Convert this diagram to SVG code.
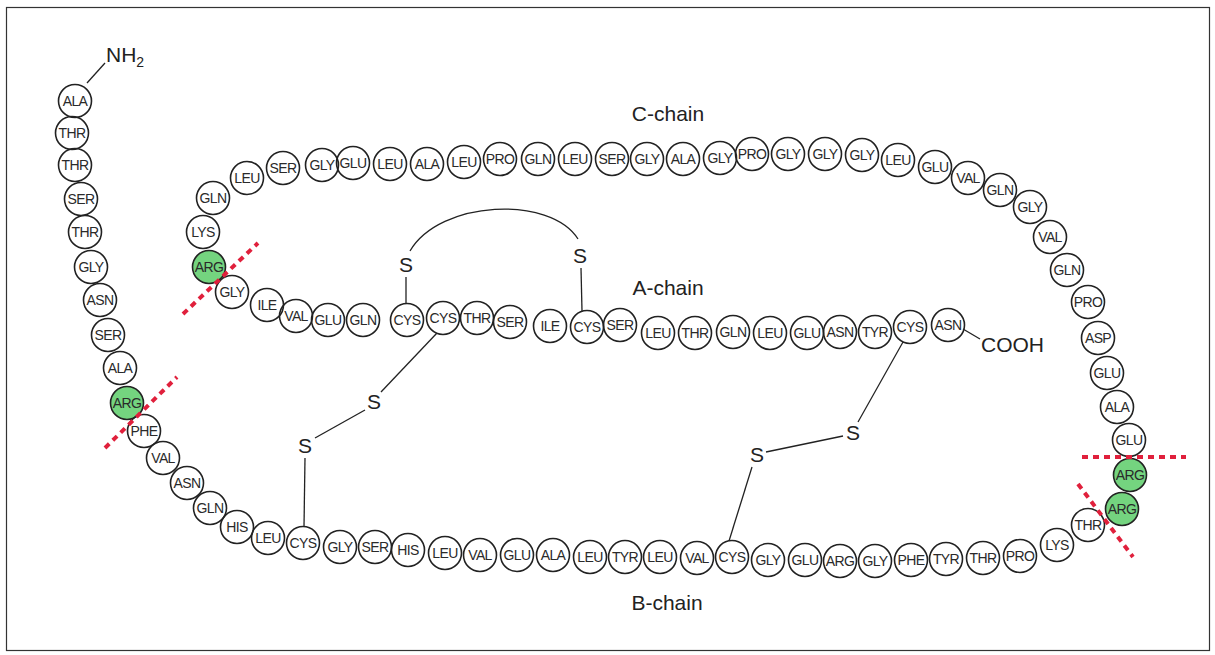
<svg xmlns="http://www.w3.org/2000/svg" width="1215" height="655" viewBox="0 0 1215 655">
<style>
.aa circle{fill:none;stroke:#222;stroke-width:1.6}
.aa.g circle{fill:#74d47f}
.aa text{font-family:"Liberation Sans",Arial,sans-serif;font-size:14px;fill:#2a2a2a;text-anchor:middle;letter-spacing:-0.6px}
.lbl{font-family:"Liberation Sans",Arial,sans-serif;font-size:21px;fill:#222}
.s{font-family:"Liberation Sans",Arial,sans-serif;font-size:21px;fill:#222;text-anchor:middle}
.bond{stroke:#222;stroke-width:1.3;fill:none}
.cut{stroke:#e0203c;stroke-width:4;stroke-dasharray:6 5;fill:none}
</style>
<rect x="6.5" y="7.5" width="1203" height="643" fill="#fff" stroke="#333" stroke-width="1.2"/>
<g id="connectors">
<line class="bond" x1="87" y1="83" x2="105" y2="63"/>
<line class="bond" x1="963" y1="329" x2="980" y2="339"/>
<path class="bond" d="M410 251 C440 200 550 195 578 239"/>
<line class="bond" x1="406" y1="277" x2="406" y2="304"/>
<line class="bond" x1="581" y1="268" x2="582" y2="311"/>
<line class="bond" x1="437" y1="333" x2="381" y2="392"/>
<line class="bond" x1="365" y1="410" x2="315" y2="438"/>
<line class="bond" x1="305" y1="458" x2="304" y2="527"/>
<line class="bond" x1="903" y1="342" x2="858" y2="422"/>
<line class="bond" x1="843" y1="436" x2="766" y2="452"/>
<line class="bond" x1="752" y1="467" x2="729" y2="541"/>
</g>
<g id="labels">
<text class="lbl" x="106" y="62">NH<tspan font-size="14" dy="5">2</tspan></text>
<text class="lbl" x="981" y="352" font-size="22">COOH</text>
<text class="lbl" x="668" y="121" text-anchor="middle" font-size="22">C-chain</text>
<text class="lbl" x="668" y="295" text-anchor="middle" font-size="22">A-chain</text>
<text class="lbl" x="667" y="610" text-anchor="middle" font-size="22">B-chain</text>
</g>
<g id="sulfurs">
<g id="s1"><text class="s" x="406" y="272">S</text></g>
<g id="s2"><text class="s" x="580" y="263">S</text></g>
<g id="s3"><text class="s" x="374" y="409">S</text></g>
<g id="s4"><text class="s" x="305" y="453">S</text></g>
<g id="s5"><text class="s" x="853" y="440">S</text></g>
<g id="s6"><text class="s" x="757" y="462">S</text></g>
</g>
<g id="n1" class="aa"><circle cx="75" cy="101" r="16.5"/><text x="75" y="106">ALA</text></g>
<g id="n2" class="aa"><circle cx="72" cy="133" r="16.5"/><text x="72" y="138">THR</text></g>
<g id="n3" class="aa"><circle cx="75" cy="165" r="16.5"/><text x="75" y="170">THR</text></g>
<g id="n4" class="aa"><circle cx="81" cy="199" r="16.5"/><text x="81" y="204">SER</text></g>
<g id="n5" class="aa"><circle cx="85" cy="232" r="16.5"/><text x="85" y="237">THR</text></g>
<g id="n6" class="aa"><circle cx="91" cy="267" r="16.5"/><text x="91" y="272">GLY</text></g>
<g id="n7" class="aa"><circle cx="100" cy="300" r="16.5"/><text x="100" y="305">ASN</text></g>
<g id="n8" class="aa"><circle cx="108" cy="335" r="16.5"/><text x="108" y="340">SER</text></g>
<g id="n9" class="aa"><circle cx="120" cy="368" r="16.5"/><text x="120" y="373">ALA</text></g>
<g id="n10" class="aa g"><circle cx="127" cy="403" r="16.5"/><text x="127" y="408">ARG</text></g>
<g id="n11" class="aa"><circle cx="144" cy="431" r="16.5"/><text x="144" y="436">PHE</text></g>
<g id="n12" class="aa"><circle cx="163" cy="458" r="16.5"/><text x="163" y="463">VAL</text></g>
<g id="n13" class="aa"><circle cx="187" cy="483" r="16.5"/><text x="187" y="488">ASN</text></g>
<g id="n14" class="aa"><circle cx="210" cy="508" r="16.5"/><text x="210" y="513">GLN</text></g>
<g id="n15" class="aa"><circle cx="237" cy="527" r="16.5"/><text x="237" y="532">HIS</text></g>
<g id="n16" class="aa"><circle cx="268" cy="538" r="16.5"/><text x="268" y="543">LEU</text></g>
<g id="n17" class="aa"><circle cx="303" cy="543" r="16.5"/><text x="303" y="548">CYS</text></g>
<g id="n18" class="aa"><circle cx="340" cy="547" r="16.5"/><text x="340" y="552">GLY</text></g>
<g id="n19" class="aa"><circle cx="375" cy="547" r="16.5"/><text x="375" y="552">SER</text></g>
<g id="n20" class="aa"><circle cx="408" cy="550" r="16.5"/><text x="408" y="555">HIS</text></g>
<g id="n21" class="aa"><circle cx="445" cy="553" r="16.5"/><text x="445" y="558">LEU</text></g>
<g id="n22" class="aa"><circle cx="480" cy="555" r="16.5"/><text x="480" y="560">VAL</text></g>
<g id="n23" class="aa"><circle cx="517" cy="555" r="16.5"/><text x="517" y="560">GLU</text></g>
<g id="n24" class="aa"><circle cx="553" cy="555" r="16.5"/><text x="553" y="560">ALA</text></g>
<g id="n25" class="aa"><circle cx="590" cy="557" r="16.5"/><text x="590" y="562">LEU</text></g>
<g id="n26" class="aa"><circle cx="625" cy="557" r="16.5"/><text x="625" y="562">TYR</text></g>
<g id="n27" class="aa"><circle cx="660" cy="557" r="16.5"/><text x="660" y="562">LEU</text></g>
<g id="n28" class="aa"><circle cx="697" cy="558" r="16.5"/><text x="697" y="563">VAL</text></g>
<g id="n29" class="aa"><circle cx="732" cy="557" r="16.5"/><text x="732" y="562">CYS</text></g>
<g id="n30" class="aa"><circle cx="768" cy="560" r="16.5"/><text x="768" y="565">GLY</text></g>
<g id="n31" class="aa"><circle cx="805" cy="560" r="16.5"/><text x="805" y="565">GLU</text></g>
<g id="n32" class="aa"><circle cx="840" cy="561" r="16.5"/><text x="840" y="566">ARG</text></g>
<g id="n33" class="aa"><circle cx="875" cy="561" r="16.5"/><text x="875" y="566">GLY</text></g>
<g id="n34" class="aa"><circle cx="911" cy="560" r="16.5"/><text x="911" y="565">PHE</text></g>
<g id="n35" class="aa"><circle cx="946" cy="559" r="16.5"/><text x="946" y="564">TYR</text></g>
<g id="n36" class="aa"><circle cx="983" cy="558" r="16.5"/><text x="983" y="563">THR</text></g>
<g id="n37" class="aa"><circle cx="1020" cy="556" r="16.5"/><text x="1020" y="561">PRO</text></g>
<g id="n38" class="aa"><circle cx="1057" cy="545" r="16.5"/><text x="1057" y="550">LYS</text></g>
<g id="n39" class="aa"><circle cx="1088" cy="525" r="16.5"/><text x="1088" y="530">THR</text></g>
<g id="n40" class="aa g"><circle cx="1122" cy="509" r="16.5"/><text x="1122" y="514">ARG</text></g>
<g id="n41" class="aa g"><circle cx="1130" cy="475" r="16.5"/><text x="1130" y="480">ARG</text></g>
<g id="n42" class="aa"><circle cx="1129" cy="440" r="16.5"/><text x="1129" y="445">GLU</text></g>
<g id="n43" class="aa"><circle cx="1117" cy="407" r="16.5"/><text x="1117" y="412">ALA</text></g>
<g id="n44" class="aa"><circle cx="1107" cy="373" r="16.5"/><text x="1107" y="378">GLU</text></g>
<g id="n45" class="aa"><circle cx="1098" cy="338" r="16.5"/><text x="1098" y="343">ASP</text></g>
<g id="n46" class="aa"><circle cx="1088" cy="302" r="16.5"/><text x="1088" y="307">PRO</text></g>
<g id="n47" class="aa"><circle cx="1067" cy="270" r="16.5"/><text x="1067" y="275">GLN</text></g>
<g id="n48" class="aa"><circle cx="1050" cy="237" r="16.5"/><text x="1050" y="242">VAL</text></g>
<g id="n49" class="aa"><circle cx="1030" cy="207" r="16.5"/><text x="1030" y="212">GLY</text></g>
<g id="n50" class="aa"><circle cx="1000" cy="190" r="16.5"/><text x="1000" y="195">GLN</text></g>
<g id="n51" class="aa"><circle cx="968" cy="178" r="16.5"/><text x="968" y="183">VAL</text></g>
<g id="n52" class="aa"><circle cx="935" cy="167" r="16.5"/><text x="935" y="172">GLU</text></g>
<g id="n53" class="aa"><circle cx="898" cy="160" r="16.5"/><text x="898" y="165">LEU</text></g>
<g id="n54" class="aa"><circle cx="862" cy="155" r="16.5"/><text x="862" y="160">GLY</text></g>
<g id="n55" class="aa"><circle cx="825" cy="154" r="16.5"/><text x="825" y="159">GLY</text></g>
<g id="n56" class="aa"><circle cx="788" cy="154" r="16.5"/><text x="788" y="159">GLY</text></g>
<g id="n57" class="aa"><circle cx="752" cy="154" r="16.5"/><text x="752" y="159">PRO</text></g>
<g id="n58" class="aa"><circle cx="720" cy="158" r="16.5"/><text x="720" y="163">GLY</text></g>
<g id="n59" class="aa"><circle cx="683" cy="159" r="16.5"/><text x="683" y="164">ALA</text></g>
<g id="n60" class="aa"><circle cx="647" cy="159" r="16.5"/><text x="647" y="164">GLY</text></g>
<g id="n61" class="aa"><circle cx="612" cy="159" r="16.5"/><text x="612" y="164">SER</text></g>
<g id="n62" class="aa"><circle cx="575" cy="159" r="16.5"/><text x="575" y="164">LEU</text></g>
<g id="n63" class="aa"><circle cx="538" cy="159" r="16.5"/><text x="538" y="164">GLN</text></g>
<g id="n64" class="aa"><circle cx="500" cy="159" r="16.5"/><text x="500" y="164">PRO</text></g>
<g id="n65" class="aa"><circle cx="464" cy="162" r="16.5"/><text x="464" y="167">LEU</text></g>
<g id="n66" class="aa"><circle cx="427" cy="164" r="16.5"/><text x="427" y="169">ALA</text></g>
<g id="n67" class="aa"><circle cx="390" cy="164" r="16.5"/><text x="390" y="169">LEU</text></g>
<g id="n68" class="aa"><circle cx="353" cy="163" r="16.5"/><text x="353" y="168">GLU</text></g>
<g id="n69" class="aa"><circle cx="322" cy="165" r="16.5"/><text x="322" y="170">GLY</text></g>
<g id="n70" class="aa"><circle cx="283" cy="168" r="16.5"/><text x="283" y="173">SER</text></g>
<g id="n71" class="aa"><circle cx="247" cy="178" r="16.5"/><text x="247" y="183">LEU</text></g>
<g id="n72" class="aa"><circle cx="213" cy="198" r="16.5"/><text x="213" y="203">GLN</text></g>
<g id="n73" class="aa"><circle cx="203" cy="232" r="16.5"/><text x="203" y="237">LYS</text></g>
<g id="n74" class="aa g"><circle cx="209" cy="267" r="16.5"/><text x="209" y="272">ARG</text></g>
<g id="n75" class="aa"><circle cx="232" cy="292" r="16.5"/><text x="232" y="297">GLY</text></g>
<g id="n76" class="aa"><circle cx="267" cy="305" r="16.5"/><text x="267" y="310">ILE</text></g>
<g id="n77" class="aa"><circle cx="296" cy="316" r="16.5"/><text x="296" y="321">VAL</text></g>
<g id="n78" class="aa"><circle cx="328" cy="320" r="16.5"/><text x="328" y="325">GLU</text></g>
<g id="n79" class="aa"><circle cx="363" cy="320" r="16.5"/><text x="363" y="325">GLN</text></g>
<g id="n80" class="aa"><circle cx="407" cy="320" r="16.5"/><text x="407" y="325">CYS</text></g>
<g id="n81" class="aa"><circle cx="443" cy="318" r="16.5"/><text x="443" y="323">CYS</text></g>
<g id="n82" class="aa"><circle cx="477" cy="318" r="16.5"/><text x="477" y="323">THR</text></g>
<g id="n83" class="aa"><circle cx="510" cy="322" r="16.5"/><text x="510" y="327">SER</text></g>
<g id="n84" class="aa"><circle cx="550" cy="326" r="16.5"/><text x="550" y="331">ILE</text></g>
<g id="n85" class="aa"><circle cx="587" cy="327" r="16.5"/><text x="587" y="332">CYS</text></g>
<g id="n86" class="aa"><circle cx="620" cy="325" r="16.5"/><text x="620" y="330">SER</text></g>
<g id="n87" class="aa"><circle cx="658" cy="333" r="16.5"/><text x="658" y="338">LEU</text></g>
<g id="n88" class="aa"><circle cx="695" cy="333" r="16.5"/><text x="695" y="338">THR</text></g>
<g id="n89" class="aa"><circle cx="733" cy="332" r="16.5"/><text x="733" y="337">GLN</text></g>
<g id="n90" class="aa"><circle cx="770" cy="333" r="16.5"/><text x="770" y="338">LEU</text></g>
<g id="n91" class="aa"><circle cx="807" cy="333" r="16.5"/><text x="807" y="338">GLU</text></g>
<g id="n92" class="aa"><circle cx="840" cy="332" r="16.5"/><text x="840" y="337">ASN</text></g>
<g id="n93" class="aa"><circle cx="875" cy="332" r="16.5"/><text x="875" y="337">TYR</text></g>
<g id="n94" class="aa"><circle cx="910" cy="327" r="16.5"/><text x="910" y="332">CYS</text></g>
<g id="n95" class="aa"><circle cx="948" cy="325" r="16.5"/><text x="948" y="330">ASN</text></g>
<g id="cuts">
<line class="cut" x1="183" y1="314" x2="258" y2="243"/>
<line class="cut" x1="105" y1="448" x2="177" y2="377"/>
<line class="cut" x1="1082" y1="457" x2="1186" y2="457"/>
<line class="cut" x1="1078" y1="484" x2="1133" y2="557"/>
</g>
</svg>
